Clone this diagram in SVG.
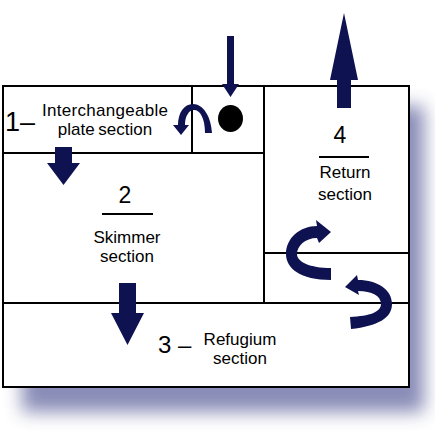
<svg xmlns="http://www.w3.org/2000/svg" width="435" height="436" viewBox="0 0 435 436">
<defs>
<filter id="sh" x="-20%" y="-20%" width="140%" height="140%"><feGaussianBlur stdDeviation="9"/></filter>
</defs>
<style>
.ln{stroke:#000;stroke-width:2;fill:none}
.ar{fill:#0e1250}
.t{font-family:"Liberation Sans",Arial,sans-serif;fill:#000;text-anchor:middle}
.s{font-size:17px}
.n{font-size:23px}
</style>
<rect x="0" y="0" width="435" height="436" fill="#fff"/>
<rect x="22" y="106" width="402" height="306" fill="#3b3f86" opacity="0.6" filter="url(#sh)"/>
<rect x="3" y="86" width="406" height="301" fill="#fff"/>
<g id="sections">
<rect x="3" y="86" width="406" height="301" class="ln" stroke-width="2.5"/>
<line x1="3" y1="153" x2="264" y2="153" class="ln"/>
<line x1="192" y1="86" x2="192" y2="153" class="ln"/>
<line x1="264" y1="86" x2="264" y2="303" class="ln"/>
<line x1="3" y1="303" x2="409" y2="303" class="ln"/>
<line x1="264" y1="253" x2="409" y2="253" class="ln"/>
</g>
<g id="section1">
<text x="5" y="131" class="t" style="font-size:27px;text-anchor:start">1–</text>
<text x="105" y="116" class="t s" textLength="126">Interchangeable</text>
<text x="105" y="135" class="t s" word-spacing="-1">plate section</text>
</g>
<g id="section1b">
<ellipse cx="230.5" cy="118.5" rx="12.5" ry="13.5" fill="#000"/>
</g>
<g id="section2">
<text x="125" y="203" class="t n">2</text>
<line x1="102" y1="214" x2="153" y2="214" class="ln"/>
<text x="127" y="243" class="t s">Skimmer</text>
<text x="127" y="262" class="t s">section</text>
</g>
<g id="section3">
<text x="158" y="353" class="t" style="font-size:24px;text-anchor:start">3 –</text>
<text x="240" y="345" class="t s">Refugium</text>
<text x="240" y="364" class="t s">section</text>
</g>
<g id="section4">
<text x="340" y="143" class="t n">4</text>
<line x1="319" y1="157" x2="369" y2="157" class="ln"/>
<text x="345" y="178" class="t s">Return</text>
<text x="345" y="200" class="t s">section</text>
</g>
<g id="connectors">
<polygon class="ar" points="227,36 234,36 234,84 239,84 230.5,97 222,84 227,84"/>
<polygon class="ar" points="337,108 351,108 351,80 358,80 344,13 330,80 337,80"/>
<polygon class="ar" points="55,147 72,147 72,163 80,163 63.5,185 47,163 55,163"/>
<polygon class="ar" points="119,283 136,283 136,313 144,313 127.5,345 111,313 119,313"/>
<path class="ar" d="M212,133 C211,116 203,104 193,104 C184,104 178,113 178,125 L173,125 L181,135 L189,125 L185,125 C185,116 189,110 194,110 C200,110 205,118 205,133 Z"/>
<path class="ar" d="M331,280 C300,280 286,268 286,254 C286,238 300,226 317,226 L316,220 L331,232 L319,243 L317,238 C305,238 297,246 297,254 C297,262 310,268 331,268 Z"/>
<path class="ar" d="M351,329 C378,326 392,318 392,304 C392,290 378,280 358,280 L357,275 L345,287 L359,295 L358,291 C372,291 381,296 381,304 C381,312 370,316 350,317 Z"/>
</g>
</svg>
